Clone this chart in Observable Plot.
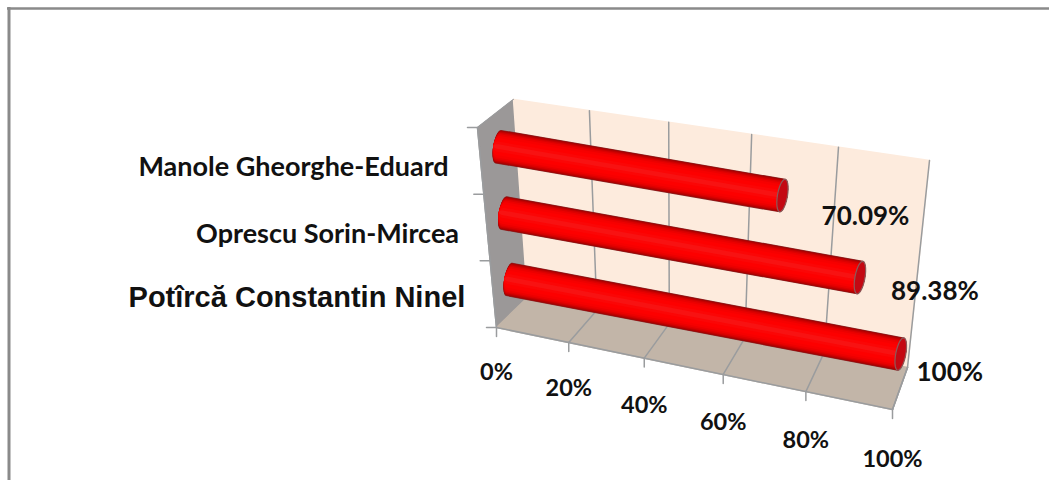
<!DOCTYPE html>
<html><head><meta charset="utf-8">
<style>html,body{margin:0;padding:0;background:#fff}svg{display:block}</style>
<script src="https://cdn.jsdelivr.net/npm/d3@7"></script>
<script src="https://cdn.jsdelivr.net/npm/@observablehq/plot@0.6"></script>
</head><body><div id="chart"></div>
<script>
const categories = ["Potîrcă Constantin Ninel", "Oprescu Sorin-Mircea", "Manole Gheorghe-Eduard"];
const values = [100, 89.38, 70.09];
const valueLabels = ["100%", "89.38%", "70.09%"];
const axisTicks = [0, 20, 40, 60, 80, 100];
const categoryTicks = [0, 1, 2, 3];

// View of the 3D box: corners as seen on the page [front, back] × [bottom, top] × [0%, 100%]
const view = {
  frontBottom: [[496, 327], [892, 409]],
  frontTop:    [[477, 127], [879, 203]],
  backBottom:  [[527, 297], [907, 367]],
  backTop:     [[513, 99],  [929, 160]]
};
const persp = 1.12;
const lerp = (a, b, t) => [a[0] + (b[0] - a[0]) * t, a[1] + (b[1] - a[1]) * t];
function project(pct, depth, level, k = persp) {
  const t = pct / 100, u = t / (t + (1 - t) * k);
  const fb = lerp(...view.frontBottom, u), ft = lerp(...view.frontTop, u);
  const bb = lerp(...view.backBottom, u), bt = lerp(...view.backTop, u);
  return lerp(lerp(fb, bb, depth), lerp(ft, bt, depth), level);
}
const levelOf = (i) => (i + 0.5) / categories.length;
const P = (pct, depth, level) => { const [x, y] = project(pct, depth, level); return {x, y}; };
const B = (pct, depth, level) => { const [x, y] = project(pct, depth, level, 1); return {x, y}; };

const poly = (pts, o) => Plot.line(pts, {x: "x", y: "y", curve: "linear-closed", ...o});
const seg = (a, b, o) => Plot.line([a, b], {x: "x", y: "y", ...o});

const wallGrey = "#9b9898", floorC = "#c2b5a8", backC = "#fdebdd", gridC = "#9a9c9e";

const marks = [];
// outer frame: top and left edges only
const frameC = "#8a8a8a";
marks.push(Plot.ruleY([8], {x1: 7, x2: 1049, stroke: frameC, strokeWidth: 2.5}));
marks.push(Plot.ruleX([8.5], {y1: 7, y2: 480, stroke: frameC, strokeWidth: 3}));
// walls
marks.push(poly([P(0,0,0),P(0,1,0),P(0,1,1),P(0,0,1)], {fill: wallGrey, stroke: wallGrey}));
marks.push(poly([P(0,1,0),P(100,1,0),P(100,1,1),P(0,1,1)], {fill: backC, stroke: backC}));
marks.push(poly([P(0,0,0),P(100,0,0),P(100,1,0),P(0,1,0)], {fill: floorC, stroke: floorC}));
// gridlines
for (const t of axisTicks) {
  if (t > 0) marks.push(seg(P(t,1,0), P(t,1,1), {stroke: gridC, strokeWidth: 1.5}));
  if (t > 0) marks.push(seg(P(t,0,0), P(t,1,0), {stroke: gridC, strokeWidth: 1.5}));
  const a = P(t,0,0);
  marks.push(seg(a, {x: a.x, y: a.y + 9}, {stroke: gridC, strokeWidth: 1.5}));
}
// box edges
marks.push(seg(P(0,0,0), P(100,0,0), {stroke: gridC, strokeWidth: 1.5}));
marks.push(seg(P(0,0,0), P(0,0,1), {stroke: gridC, strokeWidth: 1.5}));
marks.push(seg(P(0,0,1), P(0,1,1), {stroke: gridC, strokeWidth: 1}));
marks.push(seg(P(100,0,0), P(100,1,0), {stroke: gridC, strokeWidth: 1.5}));
for (const c of categoryTicks) {
  const a = P(0,0,c/3);
  marks.push(seg(a, {x: a.x - 10, y: a.y}, {stroke: gridC, strokeWidth: 1.5}));
}

// cylinders
const radius = 17, capDepth = 5;
const shades = [[1,"#8a2a2a"],[0.97,"#9c0606"],[0.93,"#b30202"],[0.88,"#c80000"],[0.82,"#dc0000"],[0.74,"#ec0000"],[0.64,"#f70000"],[0.5,"#fd0000"],[0.3,"#fb0606"],[0.14,"#f81212"]];
function capeArc(c, ax, pe, f, from, to, n = 14) {
  return d3.range(n + 1).map(i => {
    const a = from + (to - from) * i / n;
    return {x: c.x + Math.cos(a) * pe.x * radius * f + Math.sin(a) * ax.x * capDepth,
            y: c.y + Math.cos(a) * pe.y * radius * f + Math.sin(a) * ax.y * capDepth};
  });
}
categories.forEach((name, i) => {
  const s = B(0, 0.5, levelOf(i)), e = B(values[i], 0.5, levelOf(i));
  const L = Math.hypot(e.x - s.x, e.y - s.y);
  const ax = {x: (e.x - s.x) / L, y: (e.y - s.y) / L};
  const pe = {x: ax.y, y: -ax.x};
  for (const [f, col] of shades) {
    const pts = [
      ...capeArc(s, ax, pe, f, 0, -Math.PI),
      ...capeArc(e, ax, pe, f, Math.PI, 0)
    ];
    marks.push(poly(pts, {fill: col, stroke: "none"}));
  }
  marks.push(poly(capeArc(e, ax, pe, 0.97, 0, 2 * Math.PI, 28), {fill: "#c40812", stroke: "#8c5a5a", strokeWidth: 1.2}));
});

// text
const calibri = "Lato, Carlito, sans-serif";
const labelStyle = [
  {dx: -28, dy: 4, fontSize: 29, fontFamily: "'Liberation Sans', Arial, sans-serif", fontWeight: 700},
  {dx: -28, dy: 7, fontSize: 27, fontFamily: calibri, fontWeight: 700},
  {dx: -32, dy: 7, fontSize: 27, fontFamily: calibri, fontWeight: 700}
];
const valueOffset = [[49, 19], [75, 14], [83, 21]];
categories.forEach((name, i) => {
  const a = P(0, 0, levelOf(i));
  marks.push(Plot.text([name], {x: () => a.x, y: () => a.y, text: d => d, textAnchor: "end", lineAnchor: "middle", fill: "#111", ...labelStyle[i]}));
  const e = B(values[i], 0.5, levelOf(i));
  marks.push(Plot.text([valueLabels[i]], {x: () => e.x, y: () => e.y, text: d => d, dx: valueOffset[i][0], dy: valueOffset[i][1], textAnchor: "middle", lineAnchor: "middle", fill: "#111", fontSize: 26, fontFamily: calibri, fontWeight: 700}));
});
for (const t of axisTicks) {
  const a = P(t, 0, 0);
  marks.push(Plot.text([t + "%"], {x: () => a.x, y: () => a.y, text: d => d, dy: 45 + t * 0.05, textAnchor: "middle", lineAnchor: "middle", fill: "#111", fontSize: 23.5, fontFamily: calibri, fontWeight: 700}));
}

const chart = Plot.plot({
  width: 1049, height: 480, margin: 0,
  style: {background: "#fff"},
  x: {domain: [0, 1049], range: [0, 1049], axis: null},
  y: {domain: [0, 480], range: [0, 480], axis: null},
  marks
});
document.getElementById("chart").append(chart);
</script></body></html>
